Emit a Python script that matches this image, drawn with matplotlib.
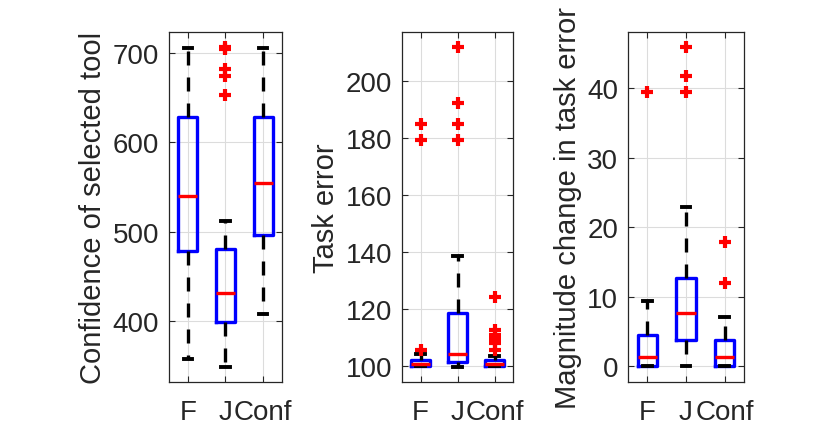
import matplotlib
matplotlib.use("Agg")
import matplotlib.pyplot as plt

plt.rcParams['font.family'] = ['Liberation Sans', 'DejaVu Sans']

groups = ['F', 'J', 'Conf']

# Confidence of selected tool
conf_q1 = [478, 399, 496]
conf_med = [540, 432, 555]
conf_q3 = [628, 481, 628]
conf_lo = [358, 349, 408]
conf_hi = [706, 512, 706]
conf_fliers = [[], [707, 704, 682, 674, 653], []]

# Task error
task_q1 = [100, 101.2, 100]
task_med = [100.7, 104.2, 100.7]
task_q3 = [102.1, 118.4, 102.1]
task_lo = [100, 99.5, 100]
task_hi = [104.3, 138.5, 103.6]
task_fliers = [[185.2, 179.4, 105.7], [212, 192.3, 185.2, 179.5],
               [124.1, 112.5, 111, 109.5, 108, 105.6]]

# Magnitude change in task error
mag_q1 = [0, 3.7, 0]
mag_med = [1.3, 7.7, 1.3]
mag_q3 = [4.4, 12.65, 3.7]
mag_lo = [0, 0, 0]
mag_hi = [9.3, 22.85, 7.1]
mag_fliers = [[39.4], [45.9, 41.8, 39.4], [17.8, 11.9]]


def make_stats(q1, med, q3, lo, hi, fl):
    return [dict(q1=q1[i], med=med[i], q3=q3[i], whislo=lo[i], whishi=hi[i],
                 fliers=fl[i], label=groups[i]) for i in range(3)]


fig = plt.figure(figsize=(8.24, 4.31), dpi=100)

axes_pos = [[169 / 824, 48 / 431, 113 / 824, 350 / 431],
            [402 / 824, 48 / 431, 111 / 824, 350 / 431],
            [628 / 824, 48 / 431, 116 / 824, 350 / 431]]

panels = [
    (make_stats(conf_q1, conf_med, conf_q3, conf_lo, conf_hi, conf_fliers),
     'Confidence of selected tool', (332, 723.5), [400, 500, 600, 700]),
    (make_stats(task_q1, task_med, task_q3, task_lo, task_hi, task_fliers),
     'Task error', (94.3, 217.4), [100, 120, 140, 160, 180, 200]),
    (make_stats(mag_q1, mag_med, mag_q3, mag_lo, mag_hi, mag_fliers),
     'Magnitude change in task error', (-2.3, 48.1), [0, 10, 20, 30, 40]),
]

dark = '#262626'

for pos, (stats, label, ylim, yticks) in zip(axes_pos, panels):
    ax = fig.add_axes(pos)
    ax.bxp(stats, widths=0.5, capwidths=0.22,
           boxprops=dict(color='blue', linewidth=2.4),
           medianprops=dict(color='red', linewidth=2.4),
           whiskerprops=dict(color='black', linewidth=2.4,
                             linestyle=(0, (4.2, 3.6))),
           capprops=dict(color='black', linewidth=2.8),
           flierprops=dict(marker='+', markeredgecolor='red',
                           markersize=9, markeredgewidth=3),
           manage_ticks=False, zorder=3)
    ax.set_xlim(0.5, 3.5)
    ax.set_ylim(*ylim)
    ax.set_xticks([1, 2, 3])
    ax.set_xticklabels(groups)
    ax.set_yticks(yticks)
    ax.grid(True, color='#dcdcdc', linewidth=0.8, zorder=0)
    ax.set_axisbelow(True)
    ax.tick_params(direction='in', length=4, width=0.8, top=True, right=True,
                   labelsize=20, colors=dark, pad=7)
    ax.tick_params(axis='x', pad=12)
    for s in ax.spines.values():
        s.set_color(dark)
        s.set_linewidth(0.9)
    ax.set_ylabel(label, fontsize=21, color=dark, labelpad=4)

fig.savefig('out.png', dpi=100)
